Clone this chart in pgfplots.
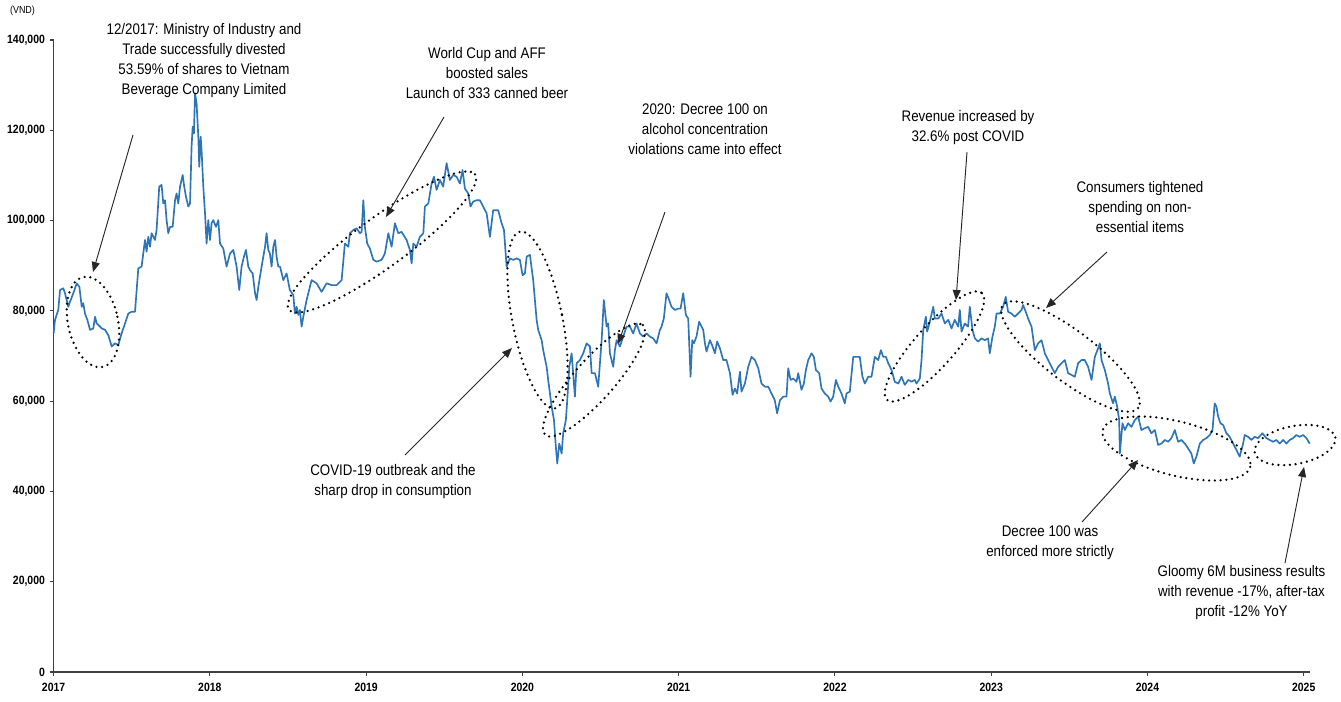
\documentclass[border=0pt]{standalone}
\usepackage{pgfplots}
\pgfplotsset{compat=1.18}
\usepackage{fontspec}
\setmainfont{Liberation Sans}[FakeStretch=0.87]
\usetikzlibrary{arrows.meta}
\definecolor{lineblue}{RGB}{46,117,182}
\definecolor{axgray}{RGB}{64,64,64}
\begin{document}
\begin{tikzpicture}
\begin{axis}[
  at={(0,0)}, anchor=south west,
  scale only axis, width=942.3pt, height=474pt,
  xmin=2017, xmax=2025.04, ymin=0, ymax=140000,
  axis lines=left,
  axis line style={axgray, line width=1pt, -},
  xtick={2017,2018,...,2025},
  ytick={0,20000,...,140000},
  tick align=outside, major tick length=3pt,
  tick style={axgray, line width=0.8pt},
  scaled ticks=false,
  /pgf/number format/assume math mode=true,
  /pgf/number format/fixed,
  /pgf/number format/precision=0,
  xticklabel style={font=\bfseries\fontsize{9}{10.8}\selectfont, /pgf/number format/1000 sep={}, yshift=-1.5pt},
  yticklabel style={font=\bfseries\fontsize{9}{10.8}\selectfont, /pgf/number format/1000 sep={,}},
  clip=false,
]
\addplot[lineblue, line width=1.25pt, line join=round] table {
2017.000 75000
2017.009 78000
2017.030 80200
2017.041 84600
2017.062 85000
2017.073 83900
2017.094 80900
2017.105 82000
2017.126 83900
2017.148 86100
2017.165 85300
2017.180 80900
2017.190 81700
2017.201 79400
2017.216 78000
2017.233 75800
2017.254 76100
2017.265 78700
2017.276 77200
2017.286 76900
2017.308 76100
2017.329 75800
2017.350 74600
2017.372 72100
2017.393 72800
2017.414 72400
2017.435 75000
2017.457 77200
2017.478 79400
2017.499 79800
2017.521 79800
2017.542 89400
2017.563 89800
2017.585 95700
2017.595 93100
2017.606 96400
2017.617 94200
2017.627 97200
2017.649 95700
2017.659 97900
2017.676 107500
2017.691 107900
2017.702 103800
2017.713 104500
2017.723 100100
2017.734 97200
2017.745 98600
2017.762 98600
2017.777 104500
2017.787 106000
2017.798 103800
2017.809 107500
2017.826 110100
2017.836 107500
2017.847 105300
2017.862 103100
2017.873 103800
2017.883 116400
2017.890 120800
2017.898 119300
2017.905 128200
2017.915 126000
2017.926 118600
2017.932 111900
2017.941 118600
2017.947 115600
2017.958 107500
2017.969 101600
2017.979 94900
2017.990 100100
2018.001 95700
2018.011 99400
2018.022 100100
2018.039 98600
2018.054 100100
2018.065 94900
2018.086 93800
2018.107 89800
2018.129 92700
2018.150 93500
2018.171 89800
2018.188 84600
2018.203 89800
2018.218 92000
2018.231 93500
2018.246 89800
2018.257 89000
2018.274 88300
2018.289 83900
2018.299 82400
2018.310 85300
2018.331 89800
2018.353 94200
2018.363 97200
2018.374 93500
2018.384 92700
2018.395 89800
2018.406 94200
2018.417 95700
2018.427 92000
2018.438 89800
2018.449 89800
2018.470 86800
2018.491 88300
2018.512 84600
2018.534 83500
2018.544 79400
2018.555 80900
2018.566 79100
2018.576 80200
2018.587 76500
2018.598 78700
2018.619 82400
2018.651 86800
2018.683 86100
2018.715 84200
2018.747 86100
2018.779 85700
2018.811 85700
2018.843 86800
2018.864 94900
2018.886 94200
2018.896 97200
2018.918 97900
2018.939 98300
2018.960 97200
2018.971 97500
2018.982 104500
2018.992 98600
2019.007 94900
2019.024 93800
2019.046 91300
2019.067 90900
2019.099 91300
2019.120 92700
2019.142 97200
2019.163 94200
2019.184 99400
2019.206 97200
2019.227 97500
2019.259 95700
2019.280 93500
2019.291 90500
2019.302 94900
2019.323 94200
2019.344 96400
2019.366 97200
2019.376 103100
2019.398 103800
2019.419 108200
2019.434 109700
2019.451 106800
2019.472 109000
2019.493 107500
2019.515 112700
2019.536 109000
2019.557 110100
2019.579 109700
2019.600 108200
2019.617 111200
2019.632 107100
2019.653 106000
2019.668 103100
2019.685 104200
2019.707 104500
2019.728 104500
2019.749 103100
2019.771 101600
2019.792 96400
2019.813 102300
2019.845 102300
2019.867 99400
2019.882 97900
2019.899 89800
2019.920 91600
2019.941 91300
2019.963 91600
2019.984 91300
2020.001 87900
2020.016 88300
2020.027 92000
2020.048 92400
2020.069 86800
2020.091 78000
2020.101 75800
2020.123 73500
2020.133 71300
2020.155 67600
2020.165 64700
2020.187 58800
2020.202 55800
2020.214 49900
2020.223 46200
2020.236 50600
2020.251 48400
2020.261 52900
2020.278 55800
2020.287 60200
2020.300 67600
2020.315 70600
2020.336 61000
2020.347 68400
2020.368 69100
2020.389 70600
2020.411 72800
2020.432 72100
2020.443 66200
2020.464 66200
2020.485 63200
2020.507 73500
2020.521 82400
2020.539 76500
2020.549 77200
2020.560 70600
2020.581 67600
2020.592 71300
2020.603 73500
2020.624 72100
2020.645 74300
2020.666 76500
2020.688 76500
2020.709 75000
2020.730 77200
2020.752 75000
2020.773 74300
2020.794 75000
2020.816 74300
2020.837 73900
2020.858 72800
2020.880 75800
2020.890 76500
2020.905 78300
2020.922 83900
2020.939 82400
2020.954 80900
2020.976 80200
2020.997 80500
2021.012 80500
2021.029 83900
2021.046 79100
2021.061 78300
2021.076 65400
2021.087 73500
2021.097 72800
2021.114 74300
2021.131 77600
2021.146 76500
2021.157 75800
2021.168 72800
2021.178 71000
2021.200 73500
2021.217 72100
2021.232 70600
2021.246 73200
2021.264 71700
2021.285 69100
2021.306 69100
2021.328 66200
2021.345 61400
2021.360 62800
2021.374 61700
2021.392 66500
2021.402 62100
2021.424 63900
2021.445 67600
2021.466 69800
2021.488 69100
2021.509 67300
2021.530 63900
2021.552 63200
2021.573 63200
2021.594 61700
2021.615 60200
2021.630 57300
2021.648 60200
2021.669 61000
2021.690 61000
2021.701 67300
2021.716 64700
2021.733 65000
2021.754 64300
2021.765 66200
2021.786 62500
2021.801 63900
2021.814 66900
2021.829 69100
2021.850 70600
2021.865 69800
2021.878 66900
2021.899 66200
2021.914 62800
2021.935 61700
2021.957 61000
2021.972 59900
2021.989 61000
2022.006 64700
2022.021 63200
2022.042 61700
2022.063 59500
2022.074 61700
2022.095 62100
2022.117 69800
2022.138 69800
2022.159 69800
2022.176 65400
2022.191 63900
2022.213 65400
2022.234 65400
2022.255 69800
2022.277 69100
2022.294 71300
2022.309 69800
2022.326 69800
2022.341 68400
2022.362 66900
2022.383 64300
2022.405 63900
2022.426 65400
2022.447 63600
2022.469 64700
2022.490 64300
2022.511 64700
2022.522 63900
2022.543 65000
2022.554 69100
2022.565 75800
2022.582 78700
2022.590 75400
2022.607 77600
2022.629 80900
2022.639 78300
2022.661 78300
2022.682 79400
2022.703 77200
2022.725 78000
2022.746 76100
2022.767 78000
2022.789 76500
2022.799 80200
2022.810 75400
2022.831 77200
2022.852 76500
2022.863 80900
2022.880 75800
2022.895 73900
2022.916 73200
2022.938 73900
2022.959 73500
2022.980 73900
2022.991 70600
2023.008 74300
2023.023 76500
2023.034 79400
2023.055 79400
2023.076 80900
2023.093 83100
2023.108 79800
2023.130 79400
2023.151 78700
2023.172 79400
2023.194 80200
2023.204 81300
2023.221 79800
2023.236 78300
2023.258 76500
2023.279 71300
2023.300 72800
2023.322 73500
2023.343 70600
2023.364 69100
2023.386 67600
2023.407 66200
2023.428 67600
2023.450 68400
2023.471 69100
2023.492 66200
2023.514 65800
2023.535 65400
2023.556 68400
2023.578 69100
2023.599 69100
2023.620 67600
2023.642 64700
2023.663 69800
2023.684 71700
2023.695 72800
2023.706 69100
2023.727 66900
2023.748 63900
2023.759 61700
2023.780 59500
2023.791 61000
2023.806 58800
2023.819 55800
2023.823 48400
2023.840 55100
2023.855 53600
2023.876 55100
2023.897 54300
2023.919 55800
2023.940 56600
2023.961 53600
2023.983 54000
2024.004 54300
2024.025 52900
2024.047 53600
2024.068 50300
2024.089 50600
2024.111 51400
2024.132 51000
2024.153 51800
2024.175 53600
2024.196 51000
2024.217 51400
2024.239 50600
2024.260 49500
2024.281 48400
2024.296 46200
2024.313 47700
2024.335 50600
2024.356 51400
2024.377 51800
2024.399 52500
2024.416 53600
2024.430 59500
2024.441 58800
2024.452 56600
2024.467 55100
2024.484 54700
2024.505 52900
2024.526 52100
2024.548 50600
2024.569 49200
2024.590 47700
2024.601 49200
2024.612 50600
2024.622 52500
2024.644 52100
2024.665 51400
2024.686 52100
2024.708 51800
2024.735 52900
2024.761 51800
2024.782 51400
2024.804 51000
2024.825 51400
2024.846 50600
2024.868 51400
2024.889 50600
2024.910 51400
2024.932 51800
2024.953 52500
2024.974 52100
2024.996 52500
2025.017 51800
2025.038 50600
};
\end{axis}
\begin{scope}[x=0.75pt, y=-0.75pt, shift={(-40.2pt,504pt)}]
\tikzset{
  dotell/.style={black, line width=1.9pt, line cap=round, dash pattern=on 0pt off 4.3pt},
  arr/.style={draw=black!85, line width=0.7pt, -{Triangle[length=7.5pt,width=6pt]}},
  ann/.style={align=center, font=\fontsize{11.5}{15}\selectfont, inner sep=0pt, text=black}
}
% ellipses
\draw[dotell, rotate around={12:(93,322)}] (93,322) ellipse [x radius=25, y radius=46];
\draw[dotell, rotate around={36:(382,242)}] (382,242) ellipse [x radius=115, y radius=25];
\draw[dotell, rotate around={11.2:(537.5,320)}] (537.5,320) ellipse [x radius=25, y radius=90];
\draw[dotell, rotate around={48.4:(594,380)}] (594,380) ellipse [x radius=73.5, y radius=20];
\draw[dotell, rotate around={48.4:(934.5,346.5)}] (934.5,346.5) ellipse [x radius=71.5, y radius=20];
\draw[dotell, rotate around={-37.3:(1070.5,356.5)}] (1070.5,356.5) ellipse [x radius=85, y radius=25];
\draw[dotell, rotate around={-14:(1176.5,448.5)}] (1176.5,448.5) ellipse [x radius=76, y radius=27];
\draw[dotell, rotate around={10.6:(1295,445)}] (1295,445) ellipse [x radius=41, y radius=19];
% arrows
\draw[arr] (133,135) -- (93,272);
\draw[arr] (444,117) -- (386,217);
\draw[arr] (665,212) -- (618,344);
\draw[arr] (405,455) -- (512,348);
\draw[arr] (967,152) -- (956,300);
\draw[arr] (1107,252) -- (1046,308);
\draw[arr] (1082,522) -- (1138,460);
\draw[arr] (1285,563) -- (1304,467);
% texts
\node[font=\fontsize{7.7}{9}\selectfont, inner sep=0pt] at (22.5,11) {(VND)};
\node[ann] at (204,60.5) {12/2017: Ministry of Industry and\\Trade successfully divested\\53.59\% of shares to Vietnam\\Beverage Company Limited};
\node[ann] at (487,73.5) {World Cup and AFF\\boosted sales\\Launch of 333 canned beer};
\node[ann] at (705,129) {2020: Decree 100 on\\alcohol concentration\\violations came into effect};
\node[ann] at (968,127.5) {Revenue increased by\\32.6\% post COVID};
\node[ann] at (1140,207) {Consumers tightened\\spending on non-\\essential items};
\node[ann] at (393,482) {COVID-19 outbreak and the\\sharp drop in consumption};
\node[ann] at (1050,542.5) {Decree 100 was\\enforced more strictly};
\node[ann] at (1241.5,592.5) {Gloomy 6M business results\\with revenue -17\%, after-tax\\profit -12\% YoY};
\pgfresetboundingbox
\path[use as bounding box] (0,0) rectangle (1341,702);
\end{scope}
\end{tikzpicture}
\end{document}
